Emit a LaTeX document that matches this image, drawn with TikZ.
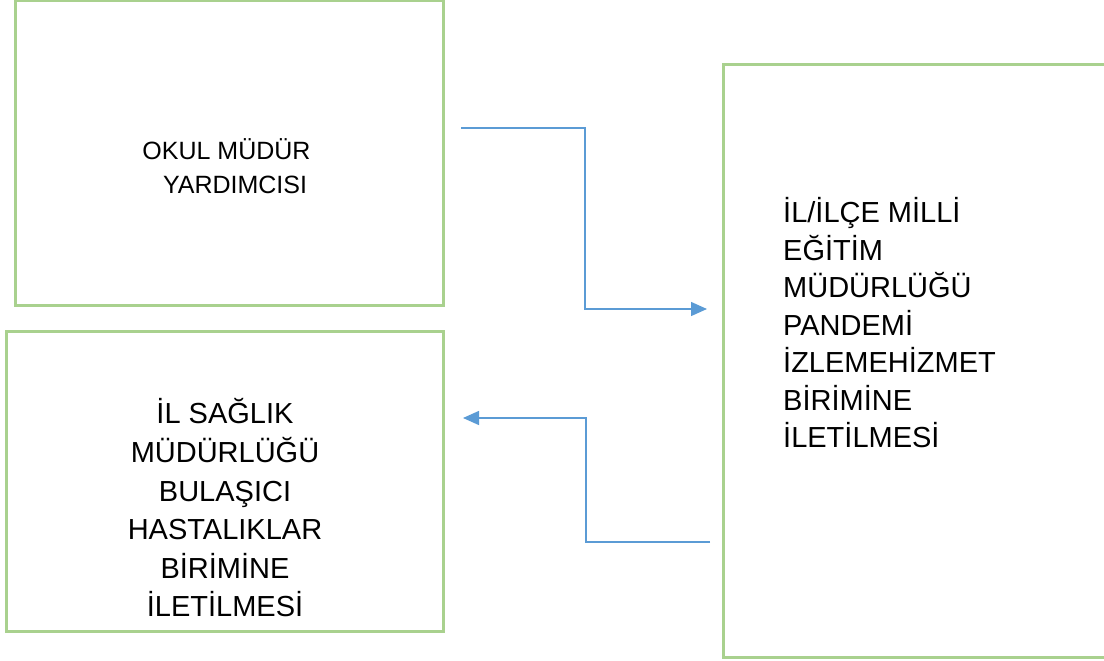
\documentclass[tikz,border=0pt]{standalone}
\usepackage{fontspec}
\setmainfont{Liberation Sans}
\usetikzlibrary{arrows.meta}
\definecolor{boxgreen}{HTML}{A9D18E}
\definecolor{arrowblue}{HTML}{5B9BD5}
\begin{document}
\begin{tikzpicture}[x=1pt,y=-1pt,
  box/.style={draw=boxgreen,line width=3pt,minimum width=#1,inner sep=0pt},
  lbl/.style={inner sep=0pt,text=black},
  conn/.style={draw=arrowblue,line width=1.4pt,-{Triangle[length=16pt,width=14pt]}}]
\useasboundingbox (0,0) rectangle (1104,661);
% boxes
\node[box=428pt,minimum height=304pt] (mudur) at (229,153) {};
\node[box=437pt,minimum height=300pt] (saglik) at (224.5,481) {};
\node[box=385pt,minimum height=592pt] (meb) at (915.5,361) {};
% texts
\node[lbl,align=center,font=\fontsize{25}{34}\selectfont] (t1) at (226.5,166) {OKUL MÜDÜR\\\hspace*{17pt}YARDIMCISI};
\node[lbl,align=center,font=\fontsize{29}{38.6}\selectfont] (t2) at (225,508) {İL SAĞLIK\\MÜDÜRLÜĞÜ\\BULAŞICI\\HASTALIKLAR\\BİRİMİNE\\İLETİLMESİ};
\node[lbl,align=left,font=\fontsize{29}{37.5}\selectfont,anchor=west] (t3) at (783,323) {İL/İLÇE MİLLİ\\EĞİTİM\\MÜDÜRLÜĞÜ\\PANDEMİ\\İZLEMEHİZMET\\BİRİMİNE\\İLETİLMESİ};
% connector end points
\coordinate (a1) at (461,128);
\coordinate (a2) at (707,309);
\coordinate (b1) at (710,542);
\coordinate (b2) at (463,418);
\draw[conn] (a1) -- (585,128) -- (585,309) -- (a2);
\draw[conn] (b1) -- (586,542) -- (586,418) -- (b2);
\end{tikzpicture}
\end{document}
